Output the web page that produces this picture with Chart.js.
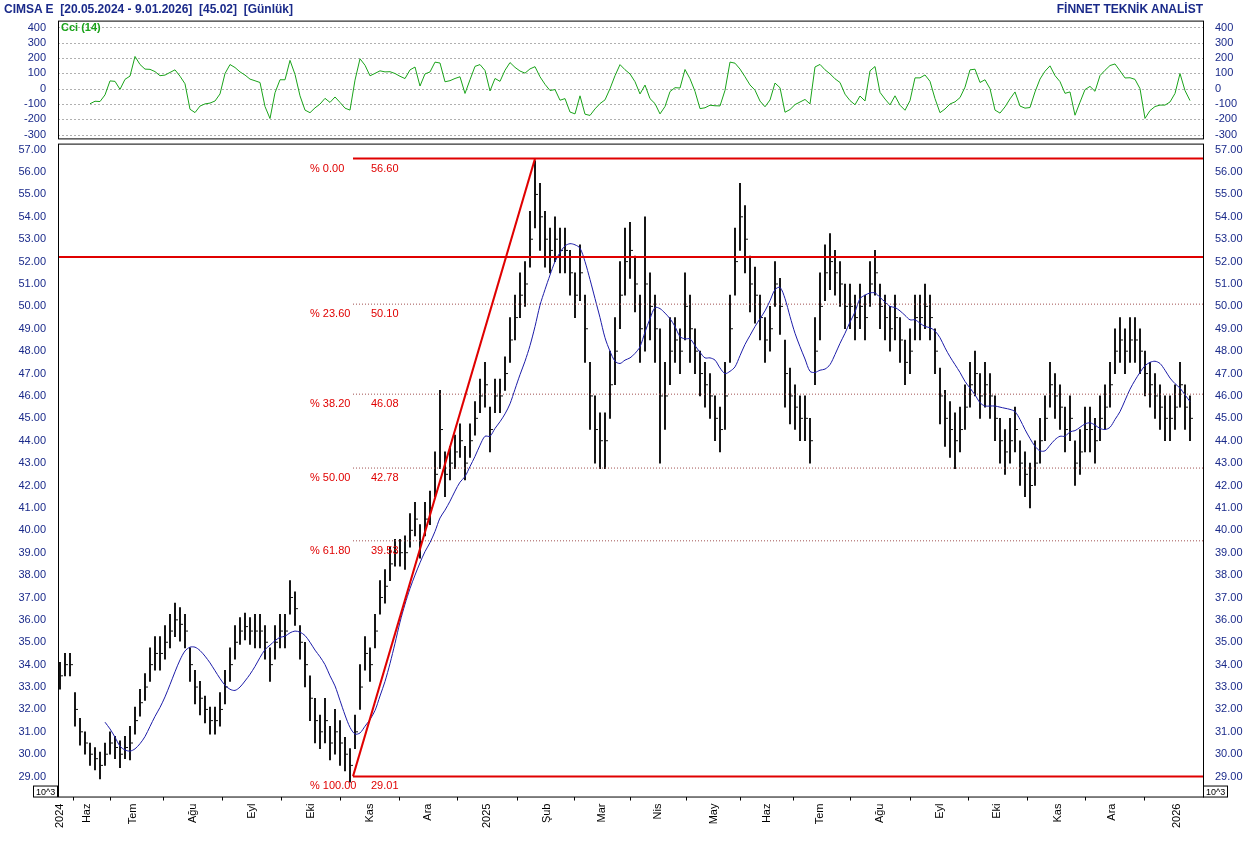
<!DOCTYPE html>
<html>
<head>
<meta charset="utf-8">
<script src="https://cdn.jsdelivr.net/npm/chart.js@4.4.1/dist/chart.umd.min.js"></script>
<style>
  body { margin: 0; background: #fff; width: 1251px; height: 841px; overflow: hidden; font-family: "Liberation Sans", Arial, sans-serif; }
  #title { position: absolute; left: 4px; top: 2px; font-size: 12px; font-weight: bold; color: #1a2a8a; z-index: 2; }
  #brand { position: absolute; right: 48px; top: 2px; font-size: 12px; font-weight: bold; color: #1a2a8a; z-index: 2; }
  #cciBox { position: absolute; left: 0; top: 10px; width: 1251px; height: 139px; }
  #mainBox { position: absolute; left: 0; top: 133px; width: 1251px; height: 708px; }
</style>
</head>
<body>
<div id="title">CIMSA E &nbsp;[20.05.2024 - 9.01.2026] &nbsp;[45.02] &nbsp;[Günlük]</div>
<div id="brand">FİNNET TEKNİK ANALİST</div>
<div id="cciBox"><canvas id="cciChart"></canvas></div>
<div id="mainBox"><canvas id="mainChart"></canvas></div>
<script>
// closes, one bar per ~2 trading days
const closes = [
  33.5,34,34,32,31,30.5,30,29.8,29.5,30,30.5,30.3,30,30.3,30.5,31.5,32.3,33,34,34.5,
  34.5,35,35.5,36,35.8,35.5,34,33,32.5,32,31.5,31.5,32,33,34,35,35.5,35.7,35.5,35.5,
  35.5,35,34,35,35.5,35.5,37,36.5,35,34,32.5,31.5,31,31.5,30.5,31,30.5,30,29.5,31,
  33,34.5,34,35.5,37,37.5,38.5,39,39,39,40,40.5,39.5,40.5,41,42.5,44.5,42.5,43,43.5,
  44,43,44,45,46,46.5,44.5,46,46,47,48.5,49.5,50.5,51,53,55,54,53,52.5,53,
  52.5,52.5,51.5,50.5,51.5,49,46,44.5,44,44,46.5,48,50.5,52,52.5,51,49,51,50,49,
  46,46,48,48.5,48,50,49,48,47,46.5,46,45,44.5,46,49,52,54,53,51,50.5,
  49.5,48.5,49,51,50,47,46,45.5,45,45,44,48,50,51.5,52,51.5,51,50,50,49.5,
  50,49.5,51,51.5,50,49.5,49,49.5,48.5,47.5,48,49.5,49.5,50,49.5,48,46,45,44.5,44,
  44.5,45.5,46.5,47,46,46.5,46,45,44,43.5,44,44.5,43,42.5,42,43,44,45,46.5,46,
  45.5,44.5,45,43,43.5,44.5,44.5,44,45,45.5,46.5,48,48.5,48,48.5,48.5,48,47,46.5,46,
  45.5,45,45,45.5,46.5,45.5,45
];
const ranges = [
  1.2,1,1,1.5,1.2,1,1,1,1.2,1,1,1,1.2,1,1.5,1.2,1.2,1.2,1.5,1.5,
  1.5,1.5,1.5,1.5,1.5,1.5,1.5,1.5,1.5,1.2,1.2,1.2,1.5,1.5,1.5,1.5,1.2,1.2,1.2,1.5,
  1.5,1.5,1.5,1.5,1.5,1.5,1.5,1.5,1.5,2,2,2,1.5,2,1.5,2,2,1.5,1.5,1.5,
  2,1.5,1.5,1.5,1.5,1.5,1.5,1.2,1.2,1.5,1.5,1.5,1.5,1.5,1.5,2,3.5,2,1.5,1.5,
  1.5,1.5,1.5,1.5,1.5,2,2,1.5,1.5,1.5,2,2,2,2,2.5,3,3,2.5,2,2,
  2,2,2,2,2.5,3,3,3,2.5,2.5,3,3,3,3,2.5,2.5,3,6,3,3,
  6,3,3,2,2,3,3,2,2,2,2,2,2,3,3,3,3,3,2.5,2.5,
  2,2,2,2,2.5,3,2.5,2,2,2,2,3,3,2.5,2.5,2,2,2,2,2,
  2,2,2,2,2,2,2,2,2,2,2,2,2,2,2,2,2.5,2.5,2.5,2.5,
  2,2,2,2,2,2,2,2,2,2,2,2,2,2,2,2,2,2,2,2,
  2,2,2,2,2,2,2,2,2,2,2,2,2,2,2,2,2,2,2,2,
  2,2,2,2,2,2,2
];
const monthLabels = ['2024','Haz','Tem','Ağu','Eyl','Eki','Kas','Ara','2025','Şub','Mar','Nis','May','Haz','Tem','Ağu','Eyl','Eki','Kas','Ara','2026'];
const monthIdx = [0,5.4,14.6,26.6,38.4,50.2,62,73.6,85.4,97.4,108.4,119.6,130.8,141.4,152,164,176,187.4,199.6,210.4,223.4];
const priceTicks = [29,30,31,32,33,34,35,36,37,38,39,40,41,42,43,44,45,46,47,48,49,50,51,52,53,54,55,56,57];
const cciTicks = [-300,-200,-100,0,100,200,300,400];
const fibLevels = [56.60, 50.10, 46.08, 42.78, 39.53, 29.01];
const fibPct = ['% 0.00', '% 23.60', '% 38.20', '% 50.00', '% 61.80', '% 100.00'];
const fibStart = 58.6, fibEnd = 95;
const resistance = 52.2;

const highs = closes.map((c, i) => c + ranges[i] / 2);
const lows = closes.map((c, i) => c - ranges[i] / 2);

// moving average (10 bars ~ 20 days)
const maN = 10;
const ma = closes.map((c, i) => {
  if (i < maN - 1) return null;
  let s = 0;
  for (let k = i - maN + 1; k <= i; k++) s += closes[k];
  return { x: i, y: s / maN };
}).filter(p => p);

// CCI on typical price, 7 bars ~ 14 days
const cciN = 7;
const tp = closes.map((c, i) => (highs[i] + lows[i] + c) / 3);
const cci = [];
for (let i = cciN - 1; i < tp.length; i++) {
  const w = tp.slice(i - cciN + 1, i + 1);
  const m = w.reduce((a, b) => a + b, 0) / cciN;
  const md = w.reduce((a, b) => a + Math.abs(b - m), 0) / cciN;
  cci.push({ x: i, y: md ? (tp[i] - m) / (0.015 * md) : 0 });
}

const FONT = { family: '"Liberation Sans", Arial, sans-serif', size: 11 };
const xMin = -0.4, xMax = 228.6;
const LEFTW = 58, RIGHTW = 48;

function fixW(w) { return function (s) { s.width = w; }; }
function setTicks(list) { return function (s) { s.ticks = list.map(v => ({ value: v })); }; }

const frame = {
  id: 'frame',
  afterDraw(chart) {
    const { ctx, chartArea: a } = chart;
    ctx.save();
    ctx.strokeStyle = '#000';
    ctx.lineWidth = 1;
    ctx.strokeRect(a.left + 0.5, a.top + 0.5, a.right - a.left, a.bottom - a.top);
    ctx.restore();
  }
};

new Chart(document.getElementById('cciChart'), {
  type: 'line',
  data: { datasets: [{ data: cci, borderColor: '#1aa31a', borderWidth: 1, pointRadius: 0, tension: 0 }] },
  options: {
    responsive: true, maintainAspectRatio: false, animation: false,
    layout: { padding: 0 },
    plugins: { legend: { display: false }, tooltip: { enabled: false } },
    scales: {
      x: { type: 'linear', min: xMin, max: xMax, display: false },
      y: { min: -325, max: 445, position: 'left', afterFit: fixW(LEFTW), afterBuildTicks: setTicks(cciTicks),
        ticks: { autoSkip: false, color: '#1a2a8a', font: FONT, padding: 4 },
        grid: { display: false }, border: { display: false } },
      y2: { min: -325, max: 445, position: 'right', afterFit: fixW(RIGHTW), afterBuildTicks: setTicks(cciTicks),
        ticks: { autoSkip: false, color: '#1a2a8a', font: FONT, padding: 4 },
        grid: { display: false }, border: { display: false } }
    }
  },
  plugins: [frame, {
    id: 'cciLabel',
    beforeDatasetsDraw(chart) {
      const { ctx, chartArea: a, scales: { y } } = chart;
      ctx.save();
      ctx.strokeStyle = '#b0b0b0';
      ctx.setLineDash([2, 2]);
      cciTicks.forEach(v => {
        const py = Math.round(y.getPixelForValue(v)) + 0.5;
        ctx.beginPath(); ctx.moveTo(a.left, py); ctx.lineTo(a.right, py); ctx.stroke();
      });
      ctx.restore();
    },
    afterDraw(chart) {
      const { ctx, chartArea: a } = chart;
      ctx.save();
      ctx.fillStyle = '#1aa31a';
      ctx.font = 'bold 11px "Liberation Sans", Arial';
      ctx.textBaseline = 'top';
      ctx.fillText('Cci (14)', a.left + 3, a.top + 2);
      ctx.restore();
    }
  }]
});

const fibPlugin = {
  id: 'fib',
  afterDatasetsDraw(chart) {
    const { ctx, chartArea: a, scales: { x, y } } = chart;
    ctx.save();
    const xs = x.getPixelForValue(fibStart);
    ctx.strokeStyle = '#e00000';
    ctx.lineWidth = 2;
    ctx.beginPath();
    ctx.moveTo(a.left, y.getPixelForValue(resistance));
    ctx.lineTo(a.right, y.getPixelForValue(resistance));
    ctx.stroke();
    fibLevels.forEach((lv, i) => {
      const py = y.getPixelForValue(lv);
      if (i === 0 || i === fibLevels.length - 1) {
        ctx.strokeStyle = '#e00000'; ctx.lineWidth = 2; ctx.setLineDash([]);
      } else {
        ctx.strokeStyle = '#a05050'; ctx.lineWidth = 1; ctx.setLineDash([1, 2]);
      }
      ctx.beginPath();
      ctx.moveTo(xs, py); ctx.lineTo(a.right, py); ctx.stroke();
      ctx.setLineDash([]);
      ctx.fillStyle = '#e00000';
      ctx.font = '11px "Liberation Sans", Arial';
      ctx.textBaseline = 'middle';
      const ty = py + 10;
      ctx.textAlign = 'left';
      ctx.fillText(fibPct[i], xs - 43, ty);
      ctx.fillText(lv.toFixed(2), xs + 18, ty);
    });
    ctx.strokeStyle = '#e00000';
    ctx.lineWidth = 2;
    ctx.beginPath();
    ctx.moveTo(xs, y.getPixelForValue(fibLevels[5]));
    ctx.lineTo(x.getPixelForValue(fibEnd), y.getPixelForValue(fibLevels[0]));
    ctx.stroke();
    ctx.font = '9px "Liberation Sans", Arial';
    ctx.fillStyle = '#000';
    ctx.textAlign = 'left';
    ctx.textBaseline = 'top';
    ctx.strokeStyle = '#000'; ctx.lineWidth = 1;
    ctx.strokeRect(a.left - 24.5, a.bottom - 10.5, 24, 11);
    ctx.fillText('10^3', a.left - 22, a.bottom - 9);
    ctx.strokeRect(a.right + 0.5, a.bottom - 10.5, 24, 11);
    ctx.fillText('10^3', a.right + 3, a.bottom - 9);
    ctx.restore();
  }
};

new Chart(document.getElementById('mainChart'), {
  data: {
    datasets: [
      { type: 'bar', data: closes.map((c, i) => ({ x: i, y: [lows[i], highs[i]] })),
        backgroundColor: '#111', barThickness: 1.3, grouped: false, order: 2 },
      { type: 'scatter', data: closes.map((c, i) => ({ x: i + 0.3, y: c })),
        pointStyle: 'line', radius: 1.5, borderColor: '#111', borderWidth: 1, order: 2 },
      { type: 'line', data: ma, borderColor: '#1c1ca8', borderWidth: 1, pointRadius: 0, tension: 0.3, order: 1 }
    ]
  },
  options: {
    responsive: true, maintainAspectRatio: false, animation: false,
    layout: { padding: { top: 0, bottom: 10 } },
    plugins: { legend: { display: false }, tooltip: { enabled: false } },
    scales: {
      x: { type: 'linear', min: xMin, max: xMax, offset: false,
        afterBuildTicks: setTicks(monthIdx),
        ticks: { minRotation: 90, maxRotation: 90, autoSkip: false, color: '#000', font: FONT,
          callback: (v, i) => monthLabels[i] },
        grid: { drawOnChartArea: false, tickLength: 4, color: '#000' }, border: { display: false } },
      y: { min: 28.11, max: 57.27, position: 'left', afterFit: fixW(LEFTW), afterBuildTicks: setTicks(priceTicks),
        ticks: { autoSkip: false, color: '#1a2a8a', font: FONT, padding: 4, callback: v => v.toFixed(2) },
        grid: { display: false }, border: { display: false } },
      y2: { min: 28.11, max: 57.27, position: 'right', afterFit: fixW(RIGHTW), afterBuildTicks: setTicks(priceTicks),
        ticks: { autoSkip: false, color: '#1a2a8a', font: FONT, padding: 4, callback: v => v.toFixed(2) },
        grid: { display: false }, border: { display: false } }
    }
  },
  plugins: [frame, fibPlugin]
});
</script>
</body>
</html>
